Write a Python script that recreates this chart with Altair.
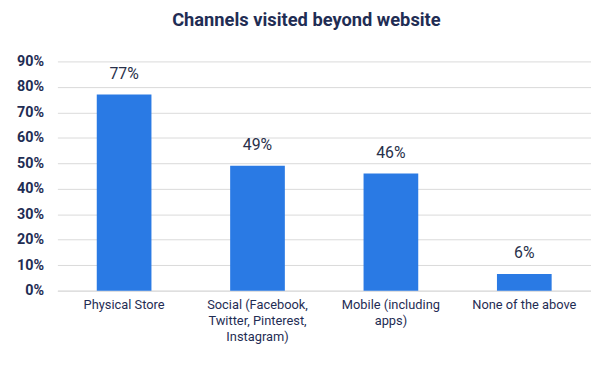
import altair as alt
import pandas as pd

categories = ["Physical Store", "Social (Facebook,\nTwitter, Pinterest,\nInstagram)",
              "Mobile (including\napps)", "None of the above"]
values = [77, 49, 46, 6.5]
labels = ["77%", "49%", "46%", "6%"]

df = pd.DataFrame({"cat": categories, "val": values, "lab": labels})

navy = "#1f2d54"

x = alt.X("cat:N", sort=categories, title=None,
          scale=alt.Scale(paddingInner=0.59, paddingOuter=0.295),
          axis=alt.Axis(labelAngle=0, labelExpr="split(datum.label, '\\n')",
                        labelFont="Roboto", labelFontSize=13, labelColor=navy,
                        labelPadding=8, ticks=False, domainColor="#d9d9d9",
                        labelLineHeight=16))
y = alt.Y("val:Q", title=None,
          scale=alt.Scale(domain=[0, 90], nice=False),
          axis=alt.Axis(values=list(range(0, 91, 10)), tickCount=10,
                        labelExpr="datum.value + '%'",
                        labelOverlap=False,
                        labelFont="Roboto", labelFontSize=14.5, labelFontWeight="bold",
                        labelColor=navy, ticks=False, domain=False, labelPadding=14,
                        gridColor="#d9d9d9"))

base = alt.Chart(df).encode(x=x, y=y)
bars = base.mark_bar(color="#2a7ae4")
text = base.mark_text(dy=-21, font="Roboto", fontSize=16, color="#28304a").encode(text="lab:N")

chart = (bars + text).properties(
    width=540, height=232,
    autosize=alt.AutoSizeParams(type="none"),
    padding={"left": 50, "top": 52, "right": 0, "bottom": 60},
    title=alt.Title("Channels visited beyond website", font="Roboto", fontSize=18.5,
                    fontWeight="bold", color=navy, anchor="middle", dx=-18, offset=24),
).configure_view(stroke=None)

chart.save("out.html", embed_options={"renderer": "svg", "actions": False})
